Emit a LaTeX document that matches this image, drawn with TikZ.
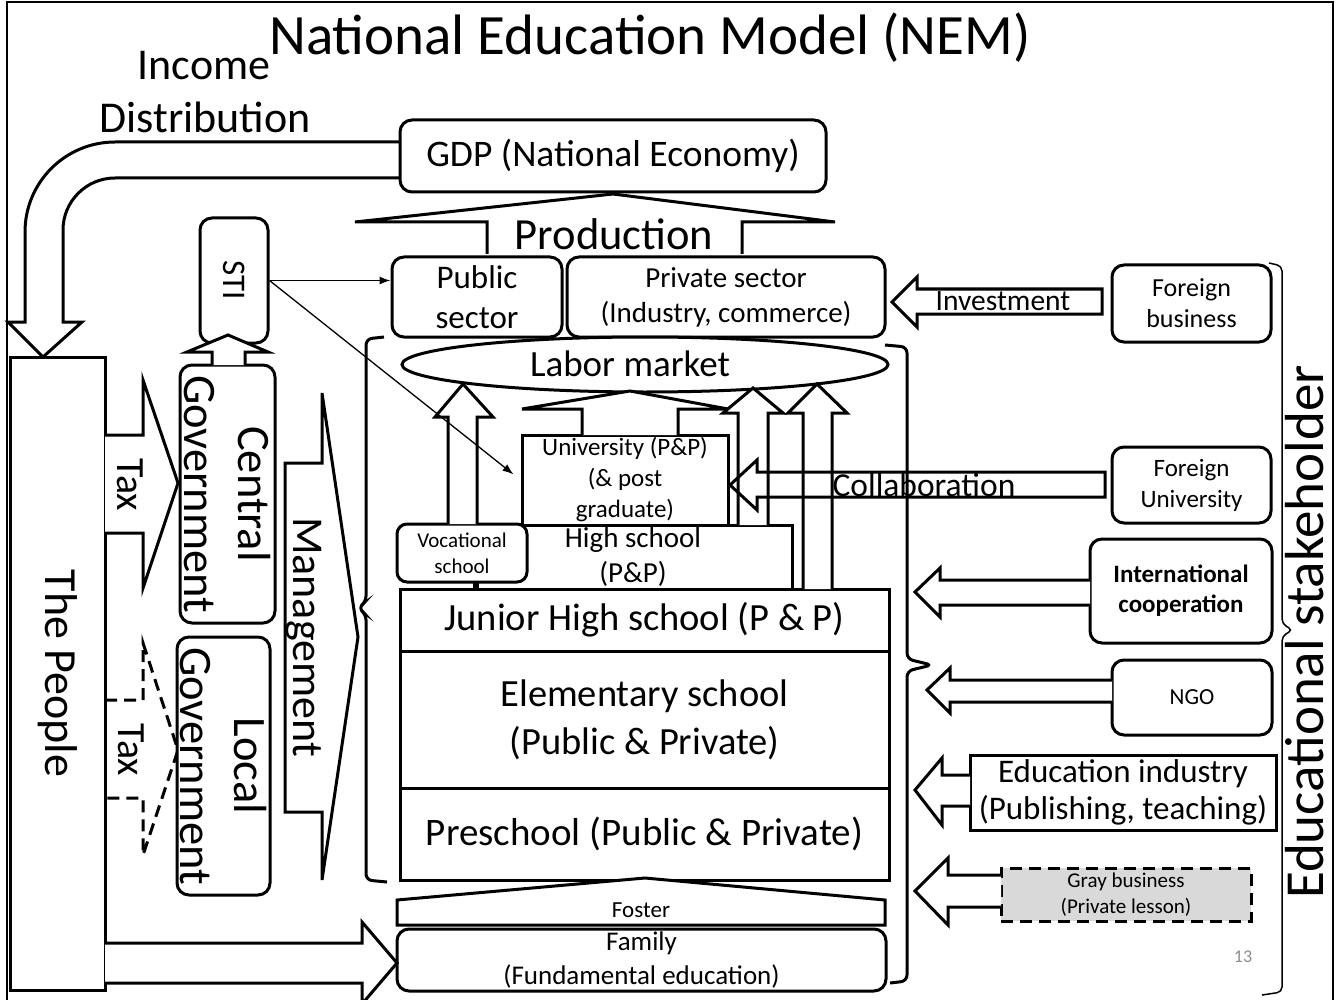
\documentclass[tikz,border=0pt]{standalone}
\usepackage{fontspec}
\setmainfont{Carlito}
\usepackage{tikz}
\usetikzlibrary{shapes,arrows,arrows.meta,calc}
\newcommand{\fsz}[2]{\fontsize{#1}{#2}\selectfont}
\tikzstyle{tsThick} = [
    draw=black,
    line width=3pt
]
\tikzstyle{tsRound} = [
    rectangle,
    tsThick,
    rounded corners=12pt,
    fill=white,
    text=black,
    align=center,
    inner sep=0pt
]
\tikzstyle{tsBox} = [
    rectangle,
    tsThick,
    fill=white,
    text=black,
    align=center,
    inner sep=0pt
]
\tikzstyle{tsBlockArrow} = [
    tsThick,
    fill=white,
    line join=miter
]
\tikzstyle{tsLabel} = [
    text=black,
    align=center,
    inner sep=0pt
]
\tikzstyle{tsThinArrow} = [
    draw=black,
    line width=1.3pt,
    -{Latex[length=11pt,width=8pt]}
]
\tikzstyle{tsDash} = [
    dash pattern=on 12pt off 7pt
]

\begin{document}
\begin{tikzpicture}[x=1pt, y=-1pt]
        \useasboundingbox (0,0) rectangle (1338,1000);
        \draw[line width=2pt] (7,1000) -- (7,2) -- (1333,2) -- (1333,1000);

        \draw[tsBlockArrow] (400,142) -- (115,142) .. controls (65.3,142) and (25,182.3) .. (25,232)
            -- (25,322) -- (8,322) -- (43,357) -- (82,322) -- (63,322) -- (63,230)
            .. controls (63,201.3) and (86.3,178) .. (115,178) -- (400,178);

        \node[tsLabel, font=\fsz{57}{68}] (title) at (650,38) {National Education Model (NEM)};
        \node[tsLabel, font=\fsz{44}{52}] (income) at (204,66) {Income};
        \node[tsLabel, font=\fsz{44}{52}] (distribution) at (205,117) {Distribution};

        \node[  tsRound,
                minimum width=426pt,
                minimum height=72pt,
                font=\fsz{37.5}{45}] (gdp) at (613,156) {GDP (National Economy)};

        \draw[tsBlockArrow] (487,254) -- (487,222) -- (355,222) -- (613,194) -- (835,222) -- (742,222) -- (742,254);
        \node[tsLabel, font=\fsz{44.5}{53}] (production) at (614,234) {Production};

        \node[tsRound, minimum width=170pt, minimum height=80pt, font=\fsz{33}{40}] (public) at (477,297) {Public\\sector};
        \node[tsRound, minimum width=318pt, minimum height=80pt, font=\fsz{29}{35}] (private) at (726,297) {Private sector\\(Industry, commerce)};

        \node[  ellipse,
                tsThick,
                fill=white,
                inner sep=0pt,
                minimum width=486pt,
                minimum height=55pt] (labor) at (645,364.5) {};
        \node[tsLabel, font=\fsz{37}{44}] (laborlabel) at (630,364) {Labor market};

        \node[tsBox, minimum width=206pt, minimum height=90pt, font=\fsz{25}{31}] (university) at (625,480) {University (P\&P)\\(\& post\\graduate)};
        \node[tsBox, minimum width=318pt, minimum height=64pt, font=\fsz{29}{35}] (highschool) at (633,557) {High school\\(P\&P)};
        \node[tsRound, rounded corners=10pt, minimum width=130pt, minimum height=58pt, font=\fsz{21}{26}] (vocational) at (462,553) {Vocational\\school};
        \draw[tsThick] (477,582) -- (477,589);

        \node[tsBox, minimum width=489pt, minimum height=62pt, font=\fsz{38.5}{46}] (junior) at (644.5,620) {Junior High school (P \& P)};
        \node[tsBox, minimum width=489pt, minimum height=137pt, font=\fsz{38.5}{48}] (elementary) at (644.5,719.5) {Elementary school\\(Public \& Private)};
        \node[tsBox, minimum width=489pt, minimum height=92pt, font=\fsz{39}{47}] (preschool) at (644.5,834) {Preschool (Public \& Private)};

        \draw[tsBlockArrow] (582,435) -- (582,409) -- (522,409) -- (630,391) -- (728,409) -- (678,409) -- (678,435);
        \draw[tsBlockArrow] (738,525) -- (738,413) -- (723,413) -- (753,388) -- (783,413) -- (768,413) -- (768,525);
        \draw[tsBlockArrow] (803,589) -- (803,413) -- (788,413) -- (817,384) -- (847,413) -- (832,413) -- (832,589);
        \draw[tsBlockArrow] (448,524) -- (448,417) -- (435,417) -- (463,384) -- (493,417) -- (477,417) -- (477,524);

        \draw[tsThick, rounded corners=6pt] (384,337) -- (366,339) -- (366,602) -- (358,608) -- (366,614) -- (366,880) -- (387,882);
        \draw[tsThick, rounded corners=6pt] (885,345) -- (907,347) -- (907,659) -- (932,665) -- (907,671) -- (907,981) -- (890,983);
        \draw[line width=1.5pt, rounded corners=5pt] (1269,263) -- (1282,266) -- (1282,624) -- (1293,630) -- (1282,636) -- (1282,992) -- (1262,995);

        \draw[tsThick, fill=white] (397,925) -- (397,900) -- (645,878) -- (885,900) -- (885,925) -- cycle;
        \node[tsLabel, font=\fsz{23}{28}] (foster) at (641,910) {Foster};
        \node[tsRound, minimum width=489pt, minimum height=62pt, font=\fsz{27}{34}] (family) at (641.5,960) {Family\\(Fundamental education)};

        \node[tsRound, minimum width=159pt, minimum height=77pt, font=\fsz{26}{31}] (foreignbiz) at (1191.5,303.5) {Foreign\\business};
        \draw[tsBlockArrow] (1102,289) -- (917,289) -- (917,277) -- (892,302) -- (917,327) -- (917,314) -- (1102,314) -- cycle;
        \node[tsLabel, font=\fsz{29.5}{35}] (investment) at (1003,301) {Investment};

        \node[tsRound, minimum width=159pt, minimum height=76pt, font=\fsz{25}{31}] (foreignuni) at (1191.5,485) {Foreign\\University};
        \draw[tsThick, line join=miter] (1105,472) -- (757,472) -- (757,460) -- (730,485) -- (757,510) -- (757,497) -- (1105,497) -- cycle;
        \node[tsLabel, font=\fsz{33.5}{40}] (collaboration) at (924,485) {Collaboration};

        \node[tsRound, minimum width=182pt, minimum height=104pt, font=\bfseries\fsz{25}{30}] (intcoop) at (1181,591) {International\\cooperation};
        \draw[tsBlockArrow] (1090,580) -- (940,580) -- (940,568) -- (915,592) -- (940,617) -- (940,605) -- (1090,605);

        \node[tsRound, minimum width=160pt, minimum height=75pt, font=\fsz{23}{28}] (ngo) at (1192,697.5) {NGO};
        \draw[tsBlockArrow] (1112,680) -- (950,680) -- (950,668) -- (927,690) -- (950,713) -- (950,702) -- (1112,702);

        \node[tsBox, minimum width=306pt, minimum height=75pt, font=\fsz{33}{37}] (eduindustry) at (1123,792.5) {Education industry\\(Publishing, teaching)};
        \draw[tsBlockArrow] (970,775) -- (942,775) -- (942,758) -- (915,790) -- (942,825) -- (942,806) -- (970,806);

        \node[tsBox, tsDash, fill=black!15, minimum width=250pt, minimum height=53pt, font=\fsz{21}{26}] (graybiz) at (1126,894.5) {Gray business\\(Private lesson)};
        \draw[tsBlockArrow] (1001,875) -- (948,875) -- (948,858) -- (915,891) -- (948,925) -- (948,907) -- (1001,907);

        \node[tsLabel, rotate=90, font=\fsz{55}{66}] (stakeholder) at (1305,632) {Educational stakeholder};
        \node[tsLabel, text=black!45, font=\fsz{18}{22}] (pagenum) at (1243,957) {13};

        \node[tsBox, rotate=-90, minimum width=633pt, minimum height=95pt, font=\fsz{46}{55}] (people) at (57.5,673.5) {The People};

        \draw[tsBlockArrow] (105,435) -- (143,435) -- (143,380) -- (178,483) -- (143,588) -- (143,533) -- (105,533);
        \node[tsLabel, rotate=-90, font=\fsz{40}{48}] (tax) at (130,485) {Tax};
        \draw[tsThick, tsDash] (105,700) -- (143,700) -- (143,643) -- (178,750) -- (143,855) -- (143,798) -- (105,798);
        \node[tsLabel, rotate=-90, font=\fsz{40}{48}] (localtax) at (131,750) {Tax};

        \node[tsRound, rotate=-90, minimum width=258pt, minimum height=95pt, font=\fsz{46.5}{54}] (centralgov) at (227.5,494) {Central\\Government};
        \node[tsRound, rotate=-90, minimum width=258pt, minimum height=93pt, font=\fsz{46.5}{54}] (localgov) at (223.5,766) {Local\\Government};
        \node[tsRound, rotate=-90, minimum width=125pt, minimum height=68pt, font=\fsz{33}{40}] (sti) at (234,280.5) {STI};
        \draw[tsBlockArrow] (212,365) -- (212,352) -- (187,352) -- (228,335) -- (268,352) -- (245,352) -- (245,365);

        \draw[tsBlockArrow] (285,463) -- (322,463) -- (322,393) -- (358,637) -- (322,880) -- (322,812) -- (285,812) -- cycle;
        \node[tsLabel, rotate=-90, font=\fsz{44}{53}] (management) at (304,637) {Management};

        \draw[tsBlockArrow] (105,943) -- (362,943) -- (362,922) -- (397,963) -- (362,1004) -- (362,983) -- (105,983);

        \draw[tsThinArrow] (sti.north) -- (sti.north -| public.west);
        \draw[tsThinArrow, shorten >=9pt] (sti.north) -- (university.west);
\end{tikzpicture}
\end{document}
